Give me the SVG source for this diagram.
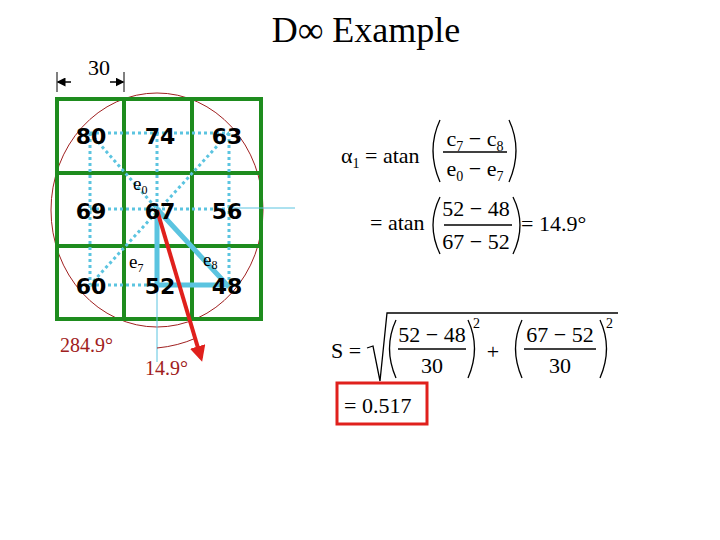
<svg xmlns="http://www.w3.org/2000/svg" width="720" height="540" viewBox="0 0 720 540">
<style>
.num{font-family:"DejaVu Sans",Verdana,sans-serif;font-weight:bold;font-size:22px;text-anchor:middle;fill:#000}
.s{font-family:"Liberation Serif","Times New Roman",serif;fill:#000}
.red{font-family:"Liberation Serif","Times New Roman",serif;fill:#a02020}
.dot{stroke:#5bc4e0;stroke-width:3;stroke-dasharray:3,3;fill:none}
.thick{stroke:#5bc4e0;stroke-width:5;fill:none}
.thin{stroke:#5bc4e0;stroke-width:1;fill:none}
.g{stroke:#1e8c1e;stroke-width:4;fill:none}
.par{stroke:#000;stroke-width:1.3;fill:none}
.bar{stroke:#000;stroke-width:1.5}
</style>
<defs>
<marker id="ah" markerWidth="6" markerHeight="6" refX="5" refY="3" orient="auto" markerUnits="strokeWidth"><path d="M0,0 L6,3 L0,6 z" fill="#000"/></marker>
<marker id="rh" markerWidth="4" markerHeight="4" refX="3" refY="2" orient="auto" markerUnits="strokeWidth"><path d="M0,0 L4,2 L0,4 z" fill="#e0201c"/></marker>
</defs>
<text class="s" x="366" y="42" font-size="36" text-anchor="middle">D∞ Example</text>
<g id="dimension">
<line x1="57" y1="72" x2="57" y2="92" stroke="#000" stroke-width="1"/>
<line x1="124" y1="72" x2="124" y2="92" stroke="#000" stroke-width="1"/>
<line x1="71" y1="82" x2="58" y2="82" stroke="#000" stroke-width="1.5" marker-end="url(#ah)"/>
<line x1="110" y1="82" x2="123" y2="82" stroke="#000" stroke-width="1.5" marker-end="url(#ah)"/>
<text class="s" x="99" y="75" font-size="22" text-anchor="middle">30</text>
</g>
<ellipse cx="157" cy="210" rx="106" ry="117" fill="none" stroke="#a02020" stroke-width="1"/>
<g id="grid">
<rect x="57" y="99" width="204" height="220" class="g"/>
<line x1="124" y1="99" x2="124" y2="319" class="g"/>
<line x1="192" y1="99" x2="192" y2="319" class="g"/>
<line x1="57" y1="173" x2="261" y2="173" class="g"/>
<line x1="57" y1="246" x2="261" y2="246" class="g"/>
</g>
<g id="connectors">
<path class="dot" d="M90,133 H229 M90,209 H229 M90,285 H229 M90,133 V285 M157,133 V285 M229,133 V285 M90,133 L157,209 M229,133 L90,285"/>
<path class="thick" d="M157,209 V285 H229 M157,209 L229,287"/>
<line class="thin" x1="229" y1="208" x2="295" y2="208"/>
<line class="thin" x1="157" y1="285" x2="157" y2="362"/>
<path d="M157,348 Q178,346 196,338" stroke="#a02020" stroke-width="1" fill="none"/>
<line x1="157" y1="210" x2="201" y2="358" stroke="#e0201c" stroke-width="4" marker-end="url(#rh)"/>
</g>
<g id="cells">
<text class="num" x="91" y="144">80</text>
<text class="num" x="160" y="144">74</text>
<text class="num" x="227" y="144">63</text>
<text class="num" x="91" y="219">69</text>
<text class="num" x="160" y="219">67</text>
<text class="num" x="227" y="219">56</text>
<text class="num" x="91" y="294">60</text>
<text class="num" x="160" y="294">52</text>
<text class="num" x="227" y="294">48</text>
</g>
<g id="labels">
<text class="s" x="133" y="190" font-size="19">e<tspan font-size="12" dy="4">0</tspan></text>
<text class="s" x="129" y="268" font-size="19">e<tspan font-size="12" dy="4">7</tspan></text>
<text class="s" x="203" y="266" font-size="19">e<tspan font-size="12" dy="3">8</tspan></text>
<text class="red" x="60" y="352" font-size="20">284.9°</text>
<text class="red" x="145" y="375" font-size="20">14.9°</text>
</g>
<g id="formula1">
<text class="s" x="341" y="163" font-size="22">α<tspan font-size="14" dy="5">1</tspan><tspan dy="-5"> = atan</tspan></text>
<path class="par" d="M440,120 Q426,150 440,182"/>
<path class="par" d="M509,120 Q523,150 509,182"/>
<text class="s" x="475" y="146" font-size="22" text-anchor="middle">c<tspan font-size="14" dy="5">7</tspan><tspan dy="-5"> − c</tspan><tspan font-size="14" dy="5">8</tspan></text>
<line class="bar" x1="443" y1="152" x2="507" y2="152"/>
<text class="s" x="475" y="176" font-size="22" text-anchor="middle">e<tspan font-size="14" dy="5">0</tspan><tspan dy="-5"> − e</tspan><tspan font-size="14" dy="5">7</tspan></text>
<text class="s" x="370" y="230" font-size="22">= atan</text>
<path class="par" d="M440,197 Q426,225 440,254"/>
<path class="par" d="M513,197 Q527,225 513,254"/>
<text class="s" x="476" y="216" font-size="22" text-anchor="middle">52 − 48</text>
<line class="bar" x1="444" y1="225" x2="512" y2="225"/>
<text class="s" x="476" y="249" font-size="22" text-anchor="middle">67 − 52</text>
<text class="s" x="521" y="231" font-size="22">= 14.9°</text>
</g>
<g id="formula2">
<text class="s" x="331" y="358" font-size="22">S =</text>
<path d="M367,348 L373,346 L380,381 L387,313 H618" stroke="#000" stroke-width="1.3" fill="none"/>
<path class="par" d="M396,320 Q383,348 396,378"/>
<path class="par" d="M468,320 Q481,348 468,378"/>
<text class="s" x="473" y="328" font-size="14">2</text>
<text class="s" x="432" y="342" font-size="22" text-anchor="middle">52 − 48</text>
<line class="bar" x1="398" y1="349" x2="466" y2="349"/>
<text class="s" x="432" y="373" font-size="22" text-anchor="middle">30</text>
<text class="s" x="493" y="359" font-size="22" text-anchor="middle">+</text>
<path class="par" d="M522,320 Q509,348 522,378"/>
<path class="par" d="M600,320 Q613,348 600,378"/>
<text class="s" x="606" y="328" font-size="14">2</text>
<text class="s" x="560" y="342" font-size="22" text-anchor="middle">67 − 52</text>
<line class="bar" x1="524" y1="349" x2="596" y2="349"/>
<text class="s" x="560" y="373" font-size="22" text-anchor="middle">30</text>
<rect x="337" y="383" width="90" height="41" fill="none" stroke="#e0201c" stroke-width="3"/>
<text class="s" x="344" y="413" font-size="22">= 0.517</text>
</g>
</svg>
